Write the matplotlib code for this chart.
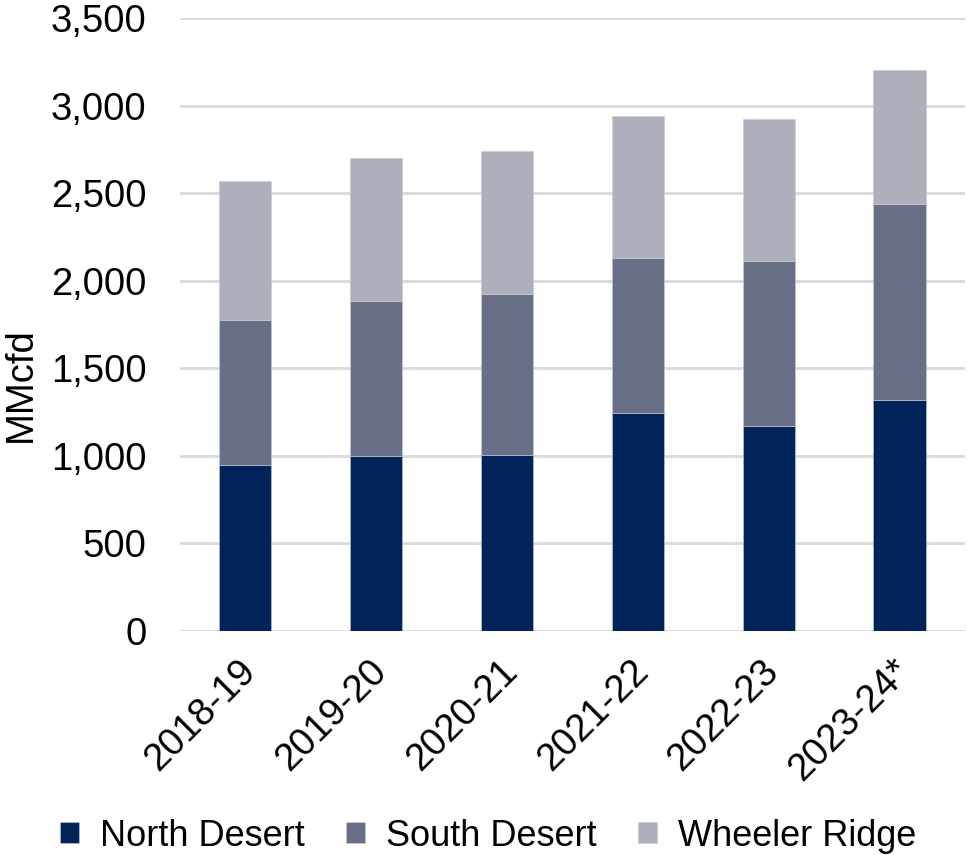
import matplotlib.pyplot as plt
from matplotlib.ticker import FuncFormatter
from matplotlib.transforms import ScaledTranslation

plt.rcParams["font.family"] = ["Liberation Sans", "DejaVu Sans"]

# winter season receipts by receipt point, MMcfd
seasons = ["2018-19", "2019-20", "2020-21", "2021-22", "2022-23", "2023-24*"]
north_desert = [948, 1001, 1007, 1247, 1170, 1317]
south_desert = [828, 885, 919, 885, 941, 1119]
wheeler_ridge = [793, 813, 815, 808, 812, 765]

colors = ["#00245a", "#6a6f88", "#adafba"]
names = ["North Desert", "South Desert", "Wheeler Ridge"]

fig = plt.figure(figsize=(9.67, 8.55), dpi=100)
ax = fig.add_axes([0.186, 0.262, 0.812, 0.717])

x = range(len(seasons))
bottom = [0] * len(seasons)
for vals, c, name in zip([north_desert, south_desert, wheeler_ridge], colors, names):
    ax.bar(x, vals, width=0.4, bottom=bottom, color=c, label=name,
           edgecolor="#c8cad3", linewidth=0.4, zorder=3)
    bottom = [b + v for b, v in zip(bottom, vals)]

ax.set_xlim(-0.5, len(seasons) - 0.5)
ax.set_ylim(0, 3500)
ax.set_yticks(range(0, 3501, 500))
ax.yaxis.set_major_formatter(FuncFormatter(lambda v, p: f"{int(v):,}"))
ax.grid(axis="y", color="#d9d9d9", linewidth=2, zorder=0)
for s in ax.spines.values():
    s.set_visible(False)
ax.tick_params(axis="both", length=0, labelsize=27.5, colors="black")
ax.tick_params(axis="y", pad=24)
ax.set_xticks(list(x))
ax.set_xticklabels(seasons, rotation=45, ha="right", rotation_mode="anchor")
ax.tick_params(axis="x", pad=15)

# nudge the slanted season labels a little to the left
shift = ScaledTranslation(-0.08, -0.01, fig.dpi_scale_trans)
for lbl in ax.get_xticklabels():
    lbl.set_transform(lbl.get_transform() + shift)

fig.text(21 / 967, 1 - 385 / 855, "MMcfd", rotation=90, fontsize=27.5,
         ha="center", va="center")

fig.legend(loc="center", bbox_to_anchor=(0.505, 1 - 836 / 855), ncol=3,
           frameon=False, fontsize=26, handlelength=0.52, handleheight=0.52,
           handletextpad=0.58, columnspacing=1.15, borderpad=0)

fig.savefig("out.png", dpi=100)
